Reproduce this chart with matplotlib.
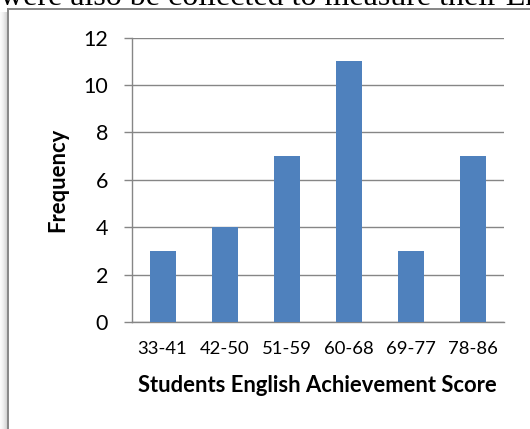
import matplotlib
matplotlib.use('Agg')
import matplotlib.pyplot as plt
from matplotlib.patches import Rectangle
from matplotlib.lines import Line2D

# score bands and how many students fall in each
score_bands = ['33-41', '42-50', '51-59', '60-68', '69-77', '78-86']
frequency = [3, 4, 7, 11, 3, 7]
y_ticks = [0, 2, 4, 6, 8, 10, 12]

W, H = 530, 429
grey = '#868686'
bar_blue = '#4F81BD'

plt.rcParams['font.family'] = ['Lato', 'DejaVu Sans']

fig = plt.figure(figsize=(W / 100, H / 100), dpi=100)

# line of body text running above the chart frame
fig.text(0.0, 1 - 5 / H, 'were also be collected to measure their English',
         family='Liberation Serif', fontsize=23, va='baseline', ha='left')

# chart frame with a soft shadow on its left side
for i, a in enumerate([0.02, 0.03, 0.05, 0.07, 0.10, 0.13, 0.17]):
    fig.patches.append(Rectangle((i / W, 0), 1 / W, (H - 12) / H,
                                 transform=fig.transFigure, color='black',
                                 alpha=a, lw=0))
fig.lines.append(Line2D([8 / W, 1], [1 - 9 / H, 1 - 9 / H],
                        transform=fig.transFigure, color=grey, lw=1.4))
fig.lines.append(Line2D([8 / W, 8 / W], [0, 1 - 9 / H],
                        transform=fig.transFigure, color=grey, lw=1.4))

left, right, top, bottom = 131.5, 504, 37.5, 322
ax = fig.add_axes([left / W, 1 - bottom / H, (right - left) / W, (bottom - top) / H])

x = range(len(score_bands))
ax.bar(x, frequency, width=0.42, color=bar_blue, zorder=3)

ax.set_xlim(-0.5, len(score_bands) - 0.5)
ax.set_ylim(0, 12)
ax.set_yticks(y_ticks)
ax.set_xticks(list(x))
ax.set_xticklabels(score_bands)

ax.grid(axis='y', color=grey, lw=1.0, zorder=0)
for s in ['top', 'right']:
    ax.spines[s].set_visible(False)
for s in ['left', 'bottom']:
    ax.spines[s].set_color(grey)
    ax.spines[s].set_linewidth(1.0)

ax.tick_params(axis='y', length=5.8, width=1.0, color=grey, pad=11,
               labelsize=15.5)
ax.tick_params(axis='x', length=0, pad=14, labelsize=13.3)

ax.set_xlabel('Students English Achievement Score', fontsize=15.8,
              fontweight='bold', va='center')
ax.xaxis.set_label_coords(0.5, -(386 - bottom) / (bottom - top))
ax.set_ylabel('Frequency', fontsize=15.8, fontweight='bold', va='center')
ax.yaxis.set_label_coords((58 - left) / (right - left), 0.5)

fig.savefig('out.png', dpi=100)
